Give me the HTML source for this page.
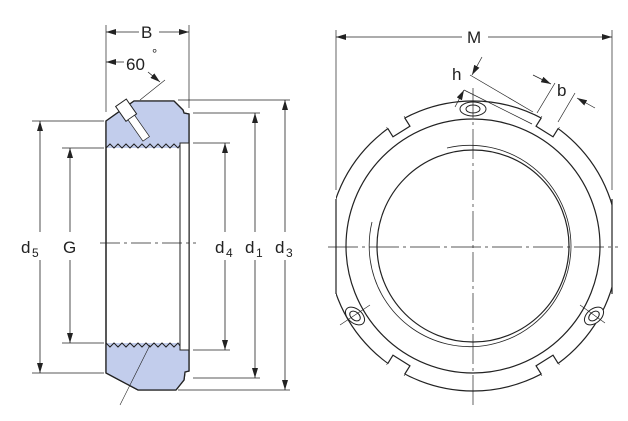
<!DOCTYPE html>
<html><head><style>
html,body{margin:0;padding:0;background:#fff}
svg{display:block}
text{font-family:"Liberation Sans",sans-serif;fill:#222}
</style></head><body>
<svg width="628" height="421" viewBox="0 0 628 421" xmlns="http://www.w3.org/2000/svg">
<defs>
<marker id="a" viewBox="0 0 10 6" refX="10" refY="3" markerWidth="10" markerHeight="6" orient="auto-start-reverse" markerUnits="userSpaceOnUse"><path d="M0,0L10,3L0,6z" fill="#222"/></marker>
</defs>
<g stroke="#222" stroke-width="1" fill="none">
<path d="M106,121 L134,101 L174,101 L183,110 L184,113 L189,114 L189,371 L185,372 L184,380 L176,390 L138,390 L106,373 Z" fill="#fff" stroke-width="1.3"/>
<path d="M106,121 L134,101 L174,101 L183,110 L184,113 L189,114 L189,143 L180,143 L180,148 L106,148 Z" fill="#c2cdec" stroke="none"/>
<path d="M106,343 L180,343 L180,350 L189,350 L189,371 L185,372 L184,380 L176,390 L138,390 L106,373 Z" fill="#c2cdec" stroke="none"/>
<path d="M106,121 L134,101 L174,101 L183,110 L184,113 L189,114 L189,371 L185,372 L184,380 L176,390 L138,390 L106,373 Z" stroke-width="1.3"/>
<rect x="180" y="143" width="9" height="207" fill="#fff"/>
<path d="M106,148 l4,-4 l4,4 l4,-4 l4,4 l4,-4 l4,4 l4,-4 l4,4 l4,-4 l4,4 l4,-4 l4,4 l4,-4 l4,4 l4,-4 l4,4 l4,-4 l4,4 l2,-3"/>
<path d="M106,343 l4,4 l4,-4 l4,4 l4,-4 l4,4 l4,-4 l4,4 l4,-4 l4,4 l4,-4 l4,4 l4,-4 l4,4 l4,-4 l4,4 l4,-4 l4,4 l4,-4 l2,3"/>
<!-- screw -->
<g transform="rotate(55 124 108)" fill="#fff"><rect x="118" y="101" width="18" height="13"/><rect x="136" y="103.5" width="26" height="8" stroke-width="0.7"/></g>
<line x1="120" y1="405" x2="150" y2="345" stroke-width="0.6"/>
<line x1="140" y1="100" x2="165" y2="80" stroke-width="0.6"/>
<line x1="100" y1="243" x2="196" y2="243" stroke-dasharray="20,4,3,4" stroke-width="0.7"/>
<g stroke-width="0.7">
<line x1="106" y1="25" x2="106" y2="112"/><line x1="189" y1="25" x2="189" y2="108"/>
<line x1="32" y1="121" x2="104" y2="121"/><line x1="32" y1="373" x2="104" y2="373"/>
<line x1="62" y1="148" x2="104" y2="148"/><line x1="62" y1="343" x2="104" y2="343"/>
<line x1="193" y1="143" x2="230" y2="143"/><line x1="193" y1="350" x2="230" y2="350"/>
<line x1="193" y1="113" x2="260" y2="113"/><line x1="193" y1="378" x2="260" y2="378"/>
<line x1="178" y1="100" x2="290" y2="100"/><line x1="178" y1="390" x2="290" y2="390"/>
</g>
<g stroke-width="0.8">
<line x1="106" y1="32" x2="139" y2="32" marker-start="url(#a)"/><line x1="159" y1="32" x2="189" y2="32" marker-end="url(#a)"/>
<line x1="106" y1="62" x2="124" y2="62" marker-start="url(#a)"/>
<line x1="148" y1="72" x2="160" y2="82" marker-end="url(#a)"/>
<line x1="40" y1="121" x2="40" y2="232" marker-start="url(#a)"/><line x1="40" y1="260" x2="40" y2="373" marker-end="url(#a)"/>
<line x1="70" y1="148" x2="70" y2="232" marker-start="url(#a)"/><line x1="70" y1="260" x2="70" y2="343" marker-end="url(#a)"/>
<line x1="225" y1="143" x2="225" y2="232" marker-start="url(#a)"/><line x1="225" y1="260" x2="225" y2="350" marker-end="url(#a)"/>
<line x1="255" y1="113" x2="255" y2="232" marker-start="url(#a)"/><line x1="255" y1="260" x2="255" y2="378" marker-end="url(#a)"/>
<line x1="285" y1="100" x2="285" y2="232" marker-start="url(#a)"/><line x1="285" y1="260" x2="285" y2="390" marker-end="url(#a)"/>
</g>
<clipPath id="c"><rect x="336" y="0" width="276" height="421"/></clipPath>
<circle cx="473" cy="246" r="145" clip-path="url(#c)" stroke-width="1.2"/>
<line x1="336" y1="199" x2="336" y2="294" stroke-width="1.2"/>
<line x1="612" y1="199" x2="612" y2="294" stroke-width="1.2"/>
<g fill="#fff" stroke-width="1.2">
<g transform="rotate(32 473 246)"><rect x="463" y="100" width="20" height="11"/><line x1="463" y1="100" x2="483" y2="100" stroke="#fff" stroke-width="2"/></g>
<g transform="rotate(-32 473 246)"><rect x="463" y="100" width="20" height="11"/><line x1="463" y1="100" x2="483" y2="100" stroke="#fff" stroke-width="2"/></g>
<g transform="rotate(148 473 246)"><rect x="463" y="100" width="20" height="11"/><line x1="463" y1="100" x2="483" y2="100" stroke="#fff" stroke-width="2"/></g>
<g transform="rotate(-148 473 246)"><rect x="463" y="100" width="20" height="11"/><line x1="463" y1="100" x2="483" y2="100" stroke="#fff" stroke-width="2"/></g>
</g>
<circle cx="473" cy="246" r="127" stroke-width="1.2"/>
<circle cx="473" cy="246" r="96" stroke-width="1.2"/>
<path d="M 447 148 A 101 101 0 0 1 571 246 A 101 101 0 0 1 447 344 A 101 101 0 0 1 372 222" stroke-width="0.8"/>
<ellipse cx="473" cy="109" rx="13" ry="7" fill="#fff"/><ellipse cx="473" cy="109" rx="7" ry="4"/>
<ellipse cx="355" cy="316" rx="7" ry="11" transform="rotate(-50 355 316)" fill="#fff"/><ellipse cx="355" cy="316" rx="4" ry="6" transform="rotate(-50 355 316)"/>
<ellipse cx="594" cy="316" rx="7" ry="11" transform="rotate(50 594 316)" fill="#fff"/><ellipse cx="594" cy="316" rx="4" ry="6" transform="rotate(50 594 316)"/>
<line x1="328" y1="247" x2="618" y2="247" stroke-dasharray="30,4,3,4" stroke-width="0.7"/>
<line x1="473" y1="88" x2="473" y2="405" stroke-dasharray="30,4,3,4" stroke-width="0.7"/>
<line x1="340" y1="325" x2="370" y2="305" stroke-width="0.6"/>
<line x1="580" y1="305" x2="605" y2="323" stroke-width="0.6"/>
<g stroke-width="0.7"><line x1="336" y1="30" x2="336" y2="190"/><line x1="612" y1="30" x2="612" y2="190"/></g>
<line x1="336" y1="37" x2="462" y2="37" marker-start="url(#a)" stroke-width="0.8"/>
<line x1="488" y1="37" x2="612" y2="37" marker-end="url(#a)" stroke-width="0.8"/>
<g stroke-width="0.7">
<line x1="470" y1="75" x2="533" y2="112"/>
<line x1="464" y1="90" x2="532" y2="124"/>
<line x1="482" y1="57" x2="472" y2="75" marker-end="url(#a)"/>
<line x1="455" y1="107" x2="464" y2="90" marker-end="url(#a)"/>
<line x1="537" y1="113" x2="555" y2="83"/>
<line x1="558" y1="122" x2="575" y2="93"/>
<line x1="533" y1="75" x2="551" y2="84" marker-end="url(#a)"/>
<line x1="595" y1="108" x2="577" y2="98" marker-end="url(#a)"/>
</g>
</g>
<g font-size="17">
<text x="141" y="38">B</text>
<text x="126" y="70">60</text><text x="152" y="58" font-size="13">°</text>
<text x="21" y="253">d</text><text x="32" y="257" font-size="12">5</text>
<text x="63" y="253">G</text>
<text x="215" y="253">d</text><text x="226" y="257" font-size="12">4</text>
<text x="245" y="253">d</text><text x="256" y="257" font-size="12">1</text>
<text x="275" y="253">d</text><text x="286" y="257" font-size="12">3</text>
<text x="467" y="43">M</text>
<text x="452" y="80">h</text>
<text x="557" y="96">b</text>
</g>
</svg>
</body></html>
